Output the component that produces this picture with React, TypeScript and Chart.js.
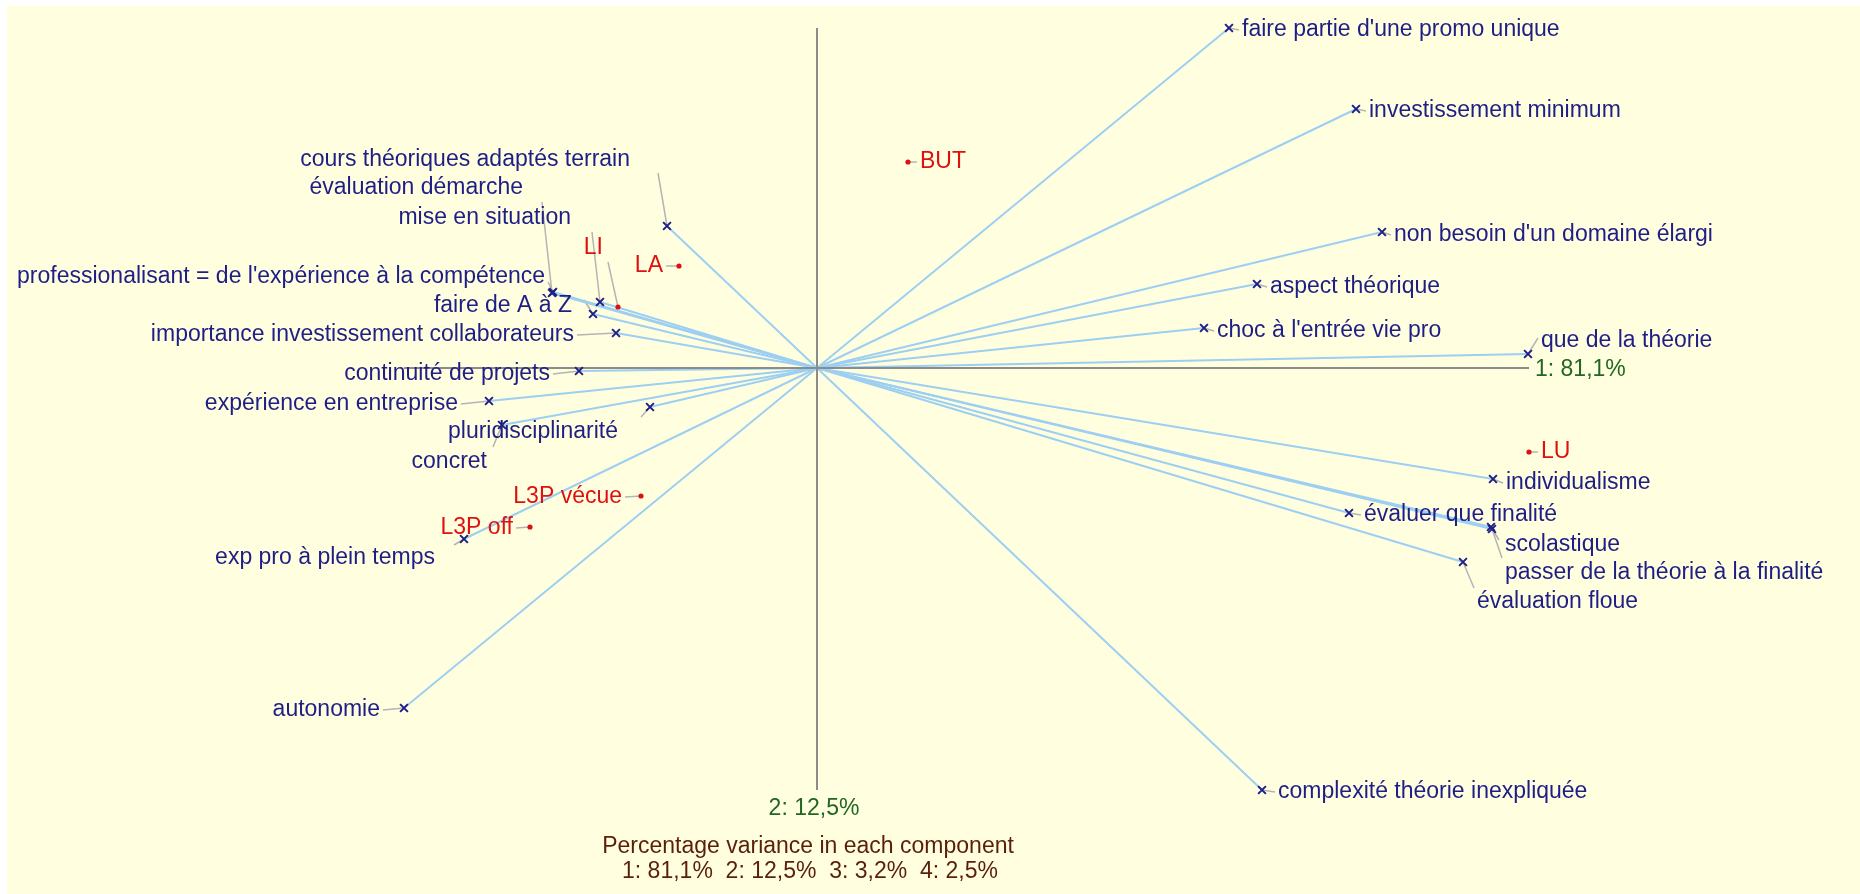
import { useEffect, useRef } from "react";
import { Chart, registerables } from "chart.js";

Chart.register(...registerables);

// ---- Data (component scores) ----
const variableNames: string[] = [
  "faire partie d'une promo unique",
  "investissement minimum",
  "non besoin d'un domaine élargi",
  "aspect théorique",
  "choc à l'entrée vie pro",
  "que de la théorie",
  "individualisme",
  "évaluer que finalité",
  "scolastique",
  "passer de la théorie à la finalité",
  "évaluation floue",
  "complexité théorie inexpliquée",
  "cours théoriques adaptés terrain",
  "évaluation démarche",
  "mise en situation",
  "professionalisant = de l'expérience à la compétence",
  "faire de A à Z",
  "importance investissement collaborateurs",
  "continuité de projets",
  "expérience en entreprise",
  "pluridisciplinarité",
  "concret",
  "exp pro à plein temps",
  "autonomie",
];
const variableX: number[] = [
  4.12, 5.39, 5.65, 4.4, 3.87, 7.11, 6.76, 5.32, 6.74, 6.75, 6.46, 4.45,
  -1.5, -2.65, -2.17, -2.64, -2.24, -2.01, -2.38, -3.28, -1.67, -3.15, -3.53, -4.13,
];
const variableY: number[] = [
  3.4, 2.59, 1.36, 0.84, 0.4, 0.14, -1.11, -1.45, -1.59, -1.61, -1.94, -4.22,
  1.42, 0.75, 0.66, 0.76, 0.54, 0.35, -0.03, -0.33, -0.39, -0.57, -1.71, -3.4,
];

const objectNames: string[] = ["BUT", "LA", "LI", "L3P vécue", "L3P off", "LU"];
const objectX: number[] = [0.91, -1.38, -1.99, -1.76, -2.87, 7.12];
const objectY: number[] = [2.06, 1.02, 0.61, -1.28, -1.59, -0.84];

const axisLabels: string[] = ["1: 81,1%", "2: 12,5%"];
const captionLines: string[] = [
  "Percentage variance in each component",
  "1: 81,1%  2: 12,5%  3: 3,2%  4: 2,5%",
];

// ---- Layout (label placement relative to each mark, in px) ----
type Place = { dx: number; dy: number; align: "left" | "right"; lead?: [number, number] };
const variablePlacement: Place[] = [
  { dx: 13, dy: 2, align: "left" },
  { dx: 13, dy: 2, align: "left" },
  { dx: 12, dy: 3, align: "left" },
  { dx: 13, dy: 3, align: "left" },
  { dx: 13, dy: 3, align: "left" },
  { dx: 13, dy: -13, align: "left", lead: [10, -16] },
  { dx: 13, dy: 4, align: "left" },
  { dx: 15, dy: 2, align: "left" },
  { dx: 14, dy: 18, align: "left", lead: [8, 13] },
  { dx: 13, dy: 44, align: "left", lead: [10, 29] },
  { dx: 14, dy: 40, align: "left", lead: [11, 26] },
  { dx: 16, dy: 2, align: "left" },
  { dx: -37, dy: -66, align: "right", lead: [-9, -53] },
  { dx: -29, dy: -105, align: "right", lead: [-10, -91] },
  { dx: -29, dy: -84, align: "right", lead: [-8, -70] },
  { dx: -8, dy: -15, align: "right", lead: [-5, -10] },
  { dx: -21, dy: -8, align: "right", lead: [-9, -14] },
  { dx: -42, dy: 2, align: "right" },
  { dx: -29, dy: 3, align: "right" },
  { dx: -31, dy: 3, align: "right" },
  { dx: -32, dy: 25, align: "right", lead: [-9, 10] },
  { dx: -15, dy: 37, align: "right", lead: [-9, 22] },
  { dx: -29, dy: 19, align: "right", lead: [-10, 6] },
  { dx: -24, dy: 2, align: "right" },
];
const objectPlacement: Place[] = [
  { dx: 12, dy: 0, align: "left" },
  { dx: -16, dy: 0, align: "right" },
  { dx: -15, dy: -59, align: "right", lead: [-10, -45] },
  { dx: -19, dy: 1, align: "right" },
  { dx: -17, dy: 1, align: "right" },
  { dx: 12, dy: 0, align: "left" },
];

const FONT = "23px 'Liberation Sans', Arial, sans-serif";
const VAR_COLOR = "#1e1e86";
const OBJ_COLOR = "#dd1111";
const AXIS_TEXT = "#226622";
const CAPTION = "#5a1e0a";
const LEADER = "#b4b4b4";
const BIPLOT_LINE = "#9ccff2";
const AXIS_LINE = "#8c8c8c";
const BG = "#ffffe0";

const allX = [...variableX, ...objectX];
const allY = [...variableY, ...objectY];
const axisMinX = Math.min(...allX);
const axisMaxX = Math.max(...allX);
const axisMinY = Math.min(...allY);
const axisMaxY = Math.max(...allY);

const labelPlugin = {
  id: "biplotLabels",
  beforeDatasetsDraw(chart: any) {
    const ctx = chart.ctx;
    const xs = chart.scales.x;
    const ys = chart.scales.y;
    ctx.save();
    ctx.strokeStyle = LEADER;
    ctx.lineWidth = 1.5;
    const leaders = (X: number[], Y: number[], places: Place[]) => {
      X.forEach((xv, i) => {
        const px = xs.getPixelForValue(xv);
        const py = ys.getPixelForValue(Y[i]);
        const p = places[i];
        let ex: number, ey: number;
        if (p.lead) {
          ex = px + p.lead[0];
          ey = py + p.lead[1];
        } else {
          ex = px + p.dx + (p.align === "left" ? -3 : 3);
          ey = py + p.dy;
        }
        ctx.beginPath();
        ctx.moveTo(px, py);
        ctx.lineTo(ex, ey);
        ctx.stroke();
      });
    };
    leaders(variableX, variableY, variablePlacement);
    leaders(objectX, objectY, objectPlacement);
    ctx.restore();
  },
  afterDatasetsDraw(chart: any) {
    const ctx = chart.ctx;
    const xs = chart.scales.x;
    const ys = chart.scales.y;
    ctx.save();
    ctx.font = FONT;
    ctx.textBaseline = "middle";
    const texts = (names: string[], X: number[], Y: number[], places: Place[], color: string) => {
      ctx.fillStyle = color;
      names.forEach((name, i) => {
        const px = xs.getPixelForValue(X[i]);
        const py = ys.getPixelForValue(Y[i]);
        const p = places[i];
        ctx.textAlign = p.align;
        ctx.fillText(name, px + p.dx, py + p.dy);
      });
    };
    texts(variableNames, variableX, variableY, variablePlacement, VAR_COLOR);
    texts(objectNames, objectX, objectY, objectPlacement, OBJ_COLOR);

    const ox = xs.getPixelForValue(0);
    const oy = ys.getPixelForValue(0);
    const right = xs.getPixelForValue(axisMaxX);
    const bottom = ys.getPixelForValue(axisMinY);
    ctx.fillStyle = AXIS_TEXT;
    ctx.textAlign = "left";
    ctx.fillText(axisLabels[0], right + 6, oy + 2);
    ctx.textAlign = "center";
    ctx.fillText(axisLabels[1], ox - 3, bottom + 19);

    ctx.fillStyle = CAPTION;
    ctx.fillText(captionLines[0], ox - 9, bottom + 57);
    ctx.fillText(captionLines[1], ox - 7, bottom + 82);
    ctx.restore();
  },
};

export default function App() {
  const canvasRef = useRef<HTMLCanvasElement | null>(null);

  useEffect(() => {
    if (!canvasRef.current) return;
    const lineSets = variableX.map((xv, i) => ({
      label: "line " + i,
      data: [
        { x: 0, y: 0 },
        { x: xv, y: variableY[i] },
      ],
      showLine: true,
      borderColor: BIPLOT_LINE,
      borderWidth: 2,
      pointRadius: 0,
      order: 3,
    }));
    const chart = new Chart(canvasRef.current, {
      type: "scatter",
      data: {
        datasets: [
          {
            label: "variables",
            data: variableX.map((xv, i) => ({ x: xv, y: variableY[i] })),
            pointStyle: "crossRot",
            pointRadius: 5.5,
            pointBorderWidth: 2,
            borderColor: VAR_COLOR,
            backgroundColor: VAR_COLOR,
            order: 0,
          },
          {
            label: "objects",
            data: objectX.map((xv, i) => ({ x: xv, y: objectY[i] })),
            pointStyle: "circle",
            pointRadius: 2.6,
            pointBorderWidth: 0,
            borderColor: OBJ_COLOR,
            backgroundColor: OBJ_COLOR,
            order: 1,
          },
          {
            label: "axis 1",
            data: [
              { x: axisMinX, y: 0 },
              { x: axisMaxX, y: 0 },
            ],
            showLine: true,
            borderColor: AXIS_LINE,
            borderWidth: 2,
            pointRadius: 0,
            order: 2,
          },
          {
            label: "axis 2",
            data: [
              { x: 0, y: axisMaxY },
              { x: 0, y: axisMinY },
            ],
            showLine: true,
            borderColor: AXIS_LINE,
            borderWidth: 2,
            pointRadius: 0,
            order: 2,
          },
          ...lineSets,
        ] as any,
      },
      options: {
        animation: false,
        responsive: false,
        maintainAspectRatio: false,
        layout: { padding: 0, autoPadding: false },
        events: [],
        plugins: {
          legend: { display: false },
          tooltip: { enabled: false },
        },
        scales: {
          x: { type: "linear", min: -8.1, max: 10.43, display: false },
          y: { type: "linear", min: -5.26, max: 3.62, display: false },
        },
      },
      plugins: [labelPlugin],
    });
    return () => chart.destroy();
  }, []);

  return (
    <div style={{ position: "absolute", left: 7, top: 6, width: 1853, height: 888 }}>
      <canvas
        ref={canvasRef}
        width={1853}
        height={888}
        style={{ display: "block", width: 1853, height: 888, background: BG }}
      />
    </div>
  );
}
